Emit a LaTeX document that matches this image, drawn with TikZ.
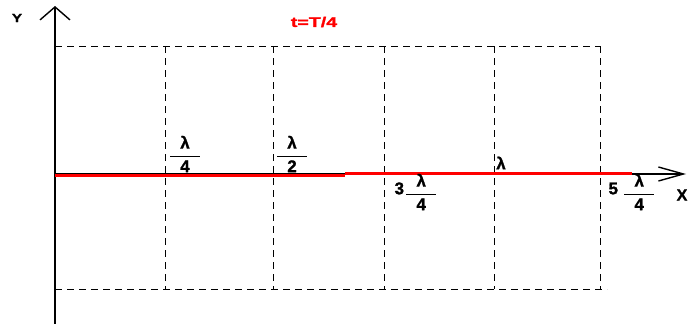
\documentclass[tikz,border=0pt]{standalone}
\usepackage{fontspec}
\setmainfont{Liberation Sans}[BoldFeatures={FakeBold=1.2}]
\usetikzlibrary{arrows.meta,positioning}
\colorlet{waveRed}{red}
\colorlet{gridBlack}{black}
\newcommand{\wfrac}[2]{$\displaystyle\frac{\hbox to 30pt{\hss#1\hss}}{\hbox to 30pt{\hss#2\hss}}$}

\begin{document}
\begin{tikzpicture}[x=1pt, y=-1pt,
        every node/.style={font=\bfseries\fontsize{17}{19}\selectfont, inner sep=0pt},
        gridline/.style={gridBlack, dash pattern=on 7pt off 5pt, line width=1pt},
        axisline/.style={line width=1.4pt}]
        \useasboundingbox (0,0) rectangle (691,324);

        % dashed frame and quarter lines
        \draw[gridline] (55,46) -- (601,46);
        \draw[gridline] (55,289) -- (607,289);
        \foreach \xq in {165,273,384,494,600}
            \draw[gridline] (\xq,46) -- (\xq,289);

        % axes
        \coordinate (ybot) at (55,324);
        \coordinate (ytop) at (55,6);
        \coordinate (xorg) at (55,174);
        \coordinate (xend) at (686,174);
        \draw[axisline, -{Straight Barb[length=13pt,width=30pt]}] (ybot) -- (ytop);
        \draw[axisline, -{Straight Barb[length=25pt,width=14pt]}] (xorg) -- (xend);

        % the string at t=T/4
        \draw[waveRed, line width=3pt] (55,175) -- (345,175);
        \draw[waveRed, line width=3pt] (345,173) -- (632,173);

        \node[xscale=1.3] (lblY) at (17,18) {\fontsize{12}{14}\selectfont Y};
        \node (lblX) at (682,195) {\fontsize{16}{18}\selectfont X};
        \node[text=waveRed, xscale=1.4] (title) at (314,22) {\fontsize{14}{16}\selectfont t=T/4};

        \node (qtr) at (185,154) {\wfrac{λ}{4}};
        \node (half) at (292,154) {\wfrac{λ}{2}};
        \node (threeqtr) at (416,192) {\raisebox{4pt}{3}\hspace{1pt}\wfrac{λ}{4}};
        \node (lam) at (501,163) {λ};
        \node (fiveqtr) at (632,192) {\raisebox{4pt}{5}\hspace{5pt}\wfrac{λ}{4}};
    \end{tikzpicture}
\end{document}
